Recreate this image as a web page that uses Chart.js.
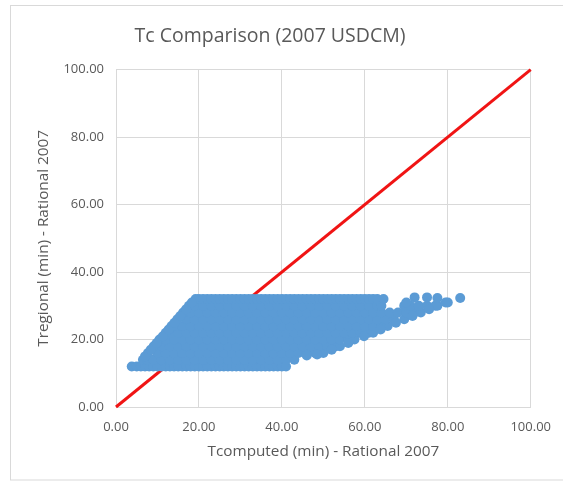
<!DOCTYPE html>
<html>
<head>
<meta charset="utf-8">
<script src="https://cdn.jsdelivr.net/npm/chart.js@4/dist/chart.umd.min.js"></script>
<style>
  html, body { margin: 0; padding: 0; background: #ffffff; }
  #wrap { width: 563px; height: 482px; position: relative; }
</style>
</head>
<body>
<div id="wrap"><canvas id="c" width="563" height="482"></canvas></div>
<script>
// Tregional levels (min) and the Tcomputed values (min) observed at each level
const tregLevels = [12, 14, 16, 18, 20, 22, 24, 26, 28, 30, 32];

const tcompAt12 = [3.8, 5, 6, 7, 8, 9, 10, 11, 12, 13, 14, 15, 16, 17, 18, 19, 20, 21, 22, 23, 24, 25, 26, 27, 28, 29, 30, 31, 32, 33, 34, 35, 36, 37, 38, 39, 40, 41];
const tcompAt14 = [6.5, 7.5, 9, 11, 13, 15, 17, 19, 21, 23, 25, 27, 29, 31, 33, 35, 37, 39, 41, 43];
const tcompAt16 = [7.7, 10, 12, 14, 16, 18, 20, 22, 24, 26, 28, 30, 32, 34, 36, 38, 40, 42, 44, 46, 48, 50];
const tcompAt18 = [9.1, 11, 13, 15, 17, 19, 21, 23, 25, 27, 29, 31, 33, 35, 37, 39, 41, 43, 45, 47, 49, 51, 53, 54];
const tcompAt20 = [10.5, 12, 14, 16, 18, 20, 22, 24, 26, 28, 30, 32, 34, 36, 38, 40, 42, 44, 46, 48, 50, 52, 54, 56, 57.5];
const tcompAt22 = [12, 13.5, 15, 17, 19, 21, 23, 25, 27, 29, 31, 33, 35, 37, 39, 41, 43, 45, 47, 49, 51, 53, 55, 57, 59, 61, 62];
const tcompAt24 = [13.4, 14.5, 16, 18, 20, 22, 24, 26, 28, 30, 32, 34, 36, 38, 40, 42, 44, 46, 48, 50, 52, 54, 56, 58, 60, 62, 64, 65.5];
const tcompAt26 = [14.8, 17, 19, 21, 23, 25, 27, 29, 31, 33, 35, 37, 39, 41, 43, 45, 47, 49, 51, 53, 55, 57, 59, 61, 63, 65, 67, 69.5];
const tcompAt28 = [16.2, 18, 20, 22, 24, 26, 28, 30, 32, 34, 36, 38, 40, 42, 44, 46, 48, 50, 52, 54, 56, 58, 60, 62, 64, 66, 68, 70, 72, 73.5];
const tcompAt30 = [17.6, 19, 21, 23, 25, 27, 29, 31, 33, 35, 37, 39, 41, 43, 45, 47, 49, 51, 53, 55, 57, 59, 61, 63, 64, 69.5, 71, 73, 75, 77, 77.5];
const tcompAt32 = [19.2, 20, 21, 22, 23, 24, 25, 26, 27, 28, 29, 30, 31, 32, 33, 34, 35, 36, 37, 38, 39, 40, 41, 42, 43, 44, 45, 46, 47, 48, 49, 50, 51, 52, 53, 54, 55, 56, 57, 58, 59, 60, 61, 62, 63, 64.5];

// sites along the short-Tc (left) and long-Tc (lower right) edges
const leftEdgeTcomp = [7, 8.4, 9.8, 11.3, 12.7, 14.1, 15.5, 16.9, 18.3];
const leftEdgeTreg  = [15, 17, 19, 21, 23, 25, 27, 29, 31];
const lowEdgeTcomp  = [46, 48.5, 52, 56, 59.8, 63.8, 67.5, 71.5, 75.5, 79.5];
const lowEdgeTreg   = [15.3, 15.6, 17, 19, 21, 23, 25, 27, 29, 31];

// long-Tc sites near the regional cap
const tailTcomp = [70, 72, 75, 77.5, 80, 83];
const tailTreg  = [31, 32.5, 32.5, 32.3, 31, 32.3];

// 1:1 reference line
const lineX = [0, 100];
const lineY = [0, 100];

const axisTicks = [0, 20, 40, 60, 80, 100];

const tcompRows = [tcompAt12, tcompAt14, tcompAt16, tcompAt18, tcompAt20, tcompAt22,
                   tcompAt24, tcompAt26, tcompAt28, tcompAt30, tcompAt32];

const sites = [];
tcompRows.forEach((row, i) => row.forEach(x => sites.push({ x: x, y: tregLevels[i] })));
leftEdgeTcomp.forEach((x, i) => sites.push({ x: x, y: leftEdgeTreg[i] }));
lowEdgeTcomp.forEach((x, i) => sites.push({ x: x, y: lowEdgeTreg[i] }));
tailTcomp.forEach((x, i) => sites.push({ x: x, y: tailTreg[i] }));

const oneToOne = lineX.map((x, i) => ({ x: x, y: lineY[i] }));

const textColor = '#595959';
const gridColor = '#d9d9d9';
const fam = "'Open Sans', 'Liberation Sans', sans-serif";

// white background and the light outer frame; title centred a bit left of the canvas middle
const framePlugin = {
  id: 'frame',
  afterLayout(chart) {
    const tb = chart.titleBlock;
    if (tb) { tb.left = 0; tb.right = 540; }
  },
  beforeDraw(chart) {
    const c = chart.ctx;
    c.save();
    c.fillStyle = '#ffffff';
    c.fillRect(0, 0, chart.width, chart.height);
    c.strokeStyle = gridColor;
    c.lineWidth = 1;
    c.strokeRect(10.5, 5.5, 560, 474.5);
    c.restore();
  }
};

new Chart(document.getElementById('c'), {
  type: 'scatter',
  data: {
    datasets: [
      {
        label: 'Tc',
        data: sites,
        backgroundColor: '#5b9bd5',
        borderWidth: 0,
        pointRadius: 5,
        pointHoverRadius: 5,
        order: 0
      },
      {
        type: 'line',
        label: '1:1',
        data: oneToOne,
        borderColor: '#f01414',
        borderWidth: 3,
        pointRadius: 0,
        fill: false,
        clip: 4,
        order: 1
      }
    ]
  },
  options: {
    responsive: false,
    animation: false,
    devicePixelRatio: 1,
    layout: { padding: { left: 30, right: 30, top: 20, bottom: 6 } },
    plugins: {
      legend: { display: false },
      tooltip: { enabled: false },
      title: {
        display: true,
        text: 'Tc Comparison (2007 USDCM)',
        color: textColor,
        font: { family: fam, size: 19.5, weight: 'normal' },
        padding: { top: 4.3, bottom: 22 }
      }
    },
    scales: {
      x: {
        type: 'linear',
        min: 0,
        max: 100,
        afterBuildTicks(s) { s.ticks = axisTicks.map(v => ({ value: v })); },
        afterFit(s) { s.height = 69; },
        ticks: {
          callback: v => Number(v).toFixed(2),
          color: textColor,
          font: { family: fam, size: 13 },
          padding: 12,
          maxRotation: 0
        },
        grid: { color: gridColor, drawTicks: false },
        border: { color: gridColor },
        title: {
          display: true,
          text: 'Tcomputed (min) - Rational 2007',
          color: textColor,
          font: { family: fam, size: 15.3 },
          padding: { top: 9, bottom: 14.8 }
        }
      },
      y: {
        type: 'linear',
        min: 0,
        max: 100,
        afterBuildTicks(s) { s.ticks = axisTicks.map(v => ({ value: v })); },
        afterFit(s) { s.width = 86; },
        ticks: {
          callback: v => Number(v).toFixed(2),
          color: textColor,
          font: { family: fam, size: 13 },
          padding: 12
        },
        grid: { color: gridColor, drawTicks: false },
        border: { color: gridColor },
        title: {
          display: true,
          text: 'Tregional (min) - Rational 2007',
          color: textColor,
          font: { family: fam, size: 15.3 },
          padding: { top: 4.3, bottom: 4 }
        }
      }
    }
  },
  plugins: [framePlugin]
});
</script>
</body>
</html>
